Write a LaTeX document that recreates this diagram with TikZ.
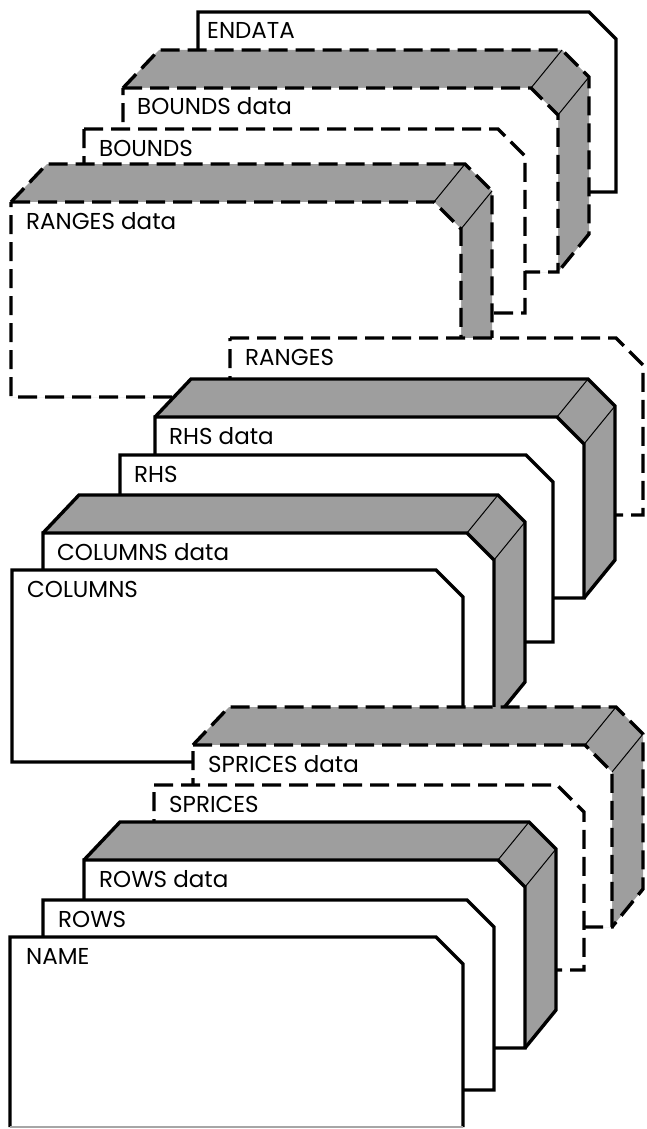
\documentclass[tikz,border=0pt]{standalone}
\usepackage{fontspec}
\setmainfont{Poppins}
\tikzset{
  edge/.style={line width=3.4pt, line join=miter, draw=black},
  dashedge/.style={edge, dash pattern=on 19pt off 8pt},
  cornerline/.style={line width=1pt, draw=black},
  shadefill/.style={fill=black!38},
  lab/.style={anchor=base west, inner sep=0pt, font=\fontsize{23}{27}\selectfont},
}
% #1 L, #2 T, #3 R, #4 B, #5 line style
\newcommand{\Card}[5]{%
  \draw[#5, fill=white] (#1,#2) -- ({#3-27},#2) -- (#3,{#2+27}) -- (#3,#4) -- (#1,#4) -- cycle;}
\newcommand{\Deck}[5]{%
  \fill[shadefill] (#1,#4) -- (#1,#2) -- ({#1+36},{#2-38}) -- ({#3+4},{#2-38}) -- ({#3+31},{#2-11}) -- ({#3+31},{#4-38}) -- (#3,#4) -- cycle;
  \draw[#5] (#1,#2) -- ({#1+36},{#2-38}) -- ({#3+4},{#2-38}) -- ({#3+31},{#2-11}) -- ({#3+31},{#4-38}) -- (#3,#4);
  \draw[cornerline] ({#3-27},#2) -- ({#3+4},{#2-38}) (#3,{#2+27}) -- ({#3+31},{#2-11});
  \draw[#5, fill=white] (#1,#2) -- ({#3-27},#2) -- (#3,{#2+27}) -- (#3,#4) -- (#1,#4) -- cycle;}
\begin{document}
\begin{tikzpicture}[x=1pt, y=-1pt]
\useasboundingbox (0,0) rectangle (646,1129);
% group 3 (back)
\Card{198}{12}{616}{192}{edge}
\node[lab] (endata) at (207,39) {ENDATA};
\Deck{123}{88}{558}{272}{dashedge}
\node[lab] (boundsdata) at (137,115) {BOUNDS data};
\Card{84}{129}{525}{313}{dashedge}
\node[lab] (bounds) at (99,156) {BOUNDS};
\Deck{11}{202}{461}{397}{dashedge}
\node[lab] (rangesdata) at (26,229) {RANGES data};
% group 2
\Card{230}{338}{643}{515}{dashedge}
\node[lab] (ranges) at (245,365) {RANGES};
\Deck{155}{417}{584}{598}{edge}
\node[lab] (rhsdata) at (169,444) {RHS data};
\Card{120}{455}{553}{642}{edge}
\node[lab] (rhs) at (134,482) {RHS};
\Deck{43}{533}{494}{720}{edge}
\node[lab] (columnsdata) at (57,560) {COLUMNS data};
\Card{12}{570}{463}{762}{edge}
\node[lab] (columns) at (27,597) {COLUMNS};
% group 1 (front)
\Deck{193}{745}{612}{927}{dashedge}
\node[lab] (spricesdata) at (208,772) {SPRICES data};
\Card{154}{785}{584}{970}{dashedge}
\node[lab] (sprices) at (169,812) {SPRICES};
\Deck{84}{860}{525}{1048}{edge}
\node[lab] (rowsdata) at (99,887) {ROWS data};
\Card{43}{900}{494}{1090}{edge}
\node[lab] (rows) at (58,927) {ROWS};
% NAME card: bottom edge only faintly printed
\fill[white] (10,937) -- (436,937) -- (463,964) -- (463,1127) -- (10,1127) -- cycle;
\draw[edge] (10,1127) -- (10,937) -- (436,937) -- (463,964) -- (463,1127);
\draw[line width=1.2pt, black!35] (10,1127) -- (463,1127);
\node[lab] (name) at (26,964) {NAME};
\end{tikzpicture}
\end{document}
